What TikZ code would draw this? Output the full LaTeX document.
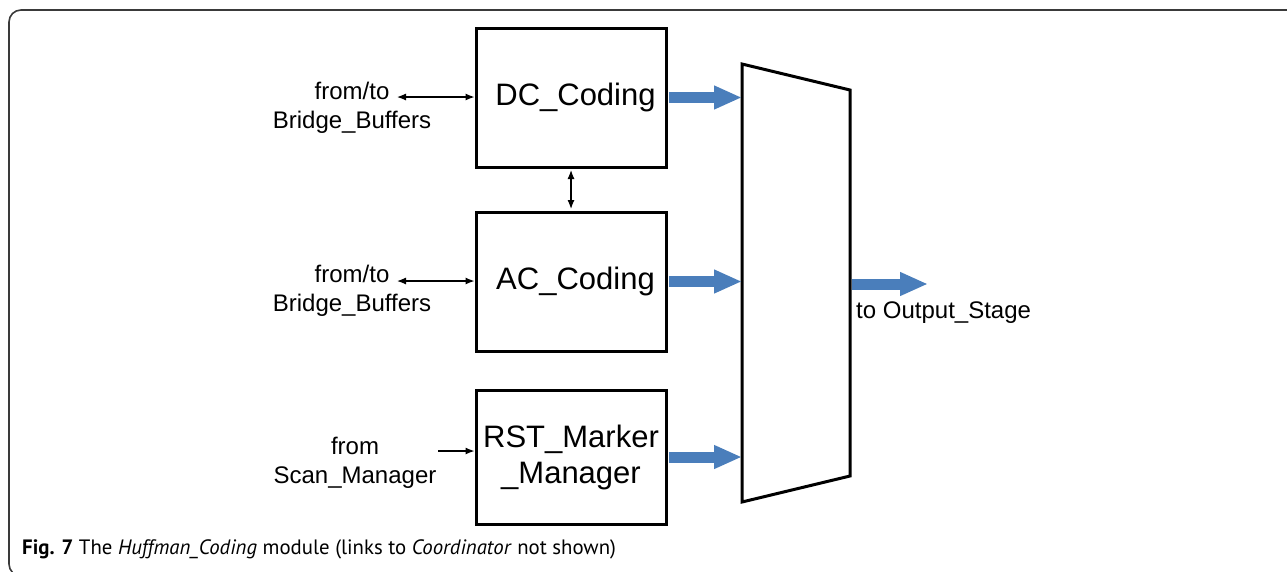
\documentclass[tikz,border=0pt]{standalone}
\usepackage{fontspec}
\setmainfont{Liberation Sans}
\newfontfamily\capfont{PT Sans}
\usepackage{xcolor}
\usetikzlibrary{arrows.meta,positioning}
\definecolor{busblue}{HTML}{4A7EBB}
\definecolor{framegray}{HTML}{3A3A3A}

\tikzset{
  block/.style={draw, line width=3pt, minimum width=190pt, inner sep=0pt, align=center, font=\fontsize{31}{36}\selectfont},
  sidelabel/.style={inner sep=0pt, align=center, font=\fontsize{24}{28.5}\selectfont},
  link/.style={line width=1.2pt},
  bus/.style={busblue, line width=11pt, -{Triangle[length=28pt,width=22pt]}}
}

\begin{document}
\begin{tikzpicture}[x=1pt,y=-1pt]
  \useasboundingbox (0,0) rectangle (1287,571);

  % Frame
  \draw[framegray, line width=1.6pt, rounded corners=12pt] (1300,10) -- (9,10) -- (9,576) -- (40,576);

  % Coding blocks
  \node[block, minimum height=139pt] (dc) at (571,97.5) {\hspace*{9pt}DC\_Coding};
  \node[block, minimum height=139pt] (ac) at (571,281.5) {\hspace*{9pt}AC\_Coding};
  \node[block, minimum height=134pt] (rst) at (571,457) {RST\_Marker\\\_Manager};

  % Multiplexer
  \coordinate (m1) at (742,64);
  \coordinate (m2) at (850,90);
  \coordinate (m3) at (850,476);
  \coordinate (m4) at (742,502);
  \draw[line width=3pt, line join=miter] (m1) -- (m2) -- (m3) -- (m4) -- cycle;

  % Side labels
  \node[sidelabel] (bridgedc) at (352,108) {from/to\\Bridge\_Buffers};
  \node[sidelabel] (bridgeac) at (352,291) {from/to\\Bridge\_Buffers};
  \node[sidelabel] (scan) at (355,463) {from\\Scan\_Manager};
  \node[sidelabel, anchor=west] (outlabel) at (856,313) {to Output\_Stage};

  % Thin links
  \coordinate (bdc) at (397,97);
  \coordinate (bac) at (397,281);
  \coordinate (bsc) at (438,451);
  \draw[link, {Latex[length=9pt,width=7pt]}-{Latex[length=9pt,width=7pt]}] (bdc) -- (bdc -| dc.west);
  \draw[link, {Latex[length=9pt,width=7pt]}-{Latex[length=9pt,width=7pt]}] (bac) -- (bac -| ac.west);
  \draw[link, -{Latex[length=9pt,width=7pt]}] (bsc) -- (bsc -| rst.west);
  \draw[link, {Latex[length=9pt,width=7pt]}-{Latex[length=9pt,width=7pt]}, shorten <=1.5pt, shorten >=1.5pt] (dc.south) -- (ac.north);

  % Buses into and out of the multiplexer
  \draw[bus] ([xshift=1.5pt]dc.east) -- (dc.east -| m1);
  \draw[bus] ([xshift=1.5pt]ac.east) -- (ac.east -| m1);
  \draw[bus] ([xshift=1.5pt]rst.east) -- (rst.east -| m1);
  \coordinate (outtip) at (928,284);
  \draw[bus] ([xshift=1.5pt]outtip -| m2) -- (outtip);

  % Caption
  \node[anchor=west, inner sep=0pt, font=\capfont\fontsize{20.8}{24}\selectfont] (caption) at (22,549)
    {\textbf{Fig. 7} The \textit{Huffman\_Coding} module (links to \textit{Coordinator} not shown)};
\end{tikzpicture}
\end{document}
